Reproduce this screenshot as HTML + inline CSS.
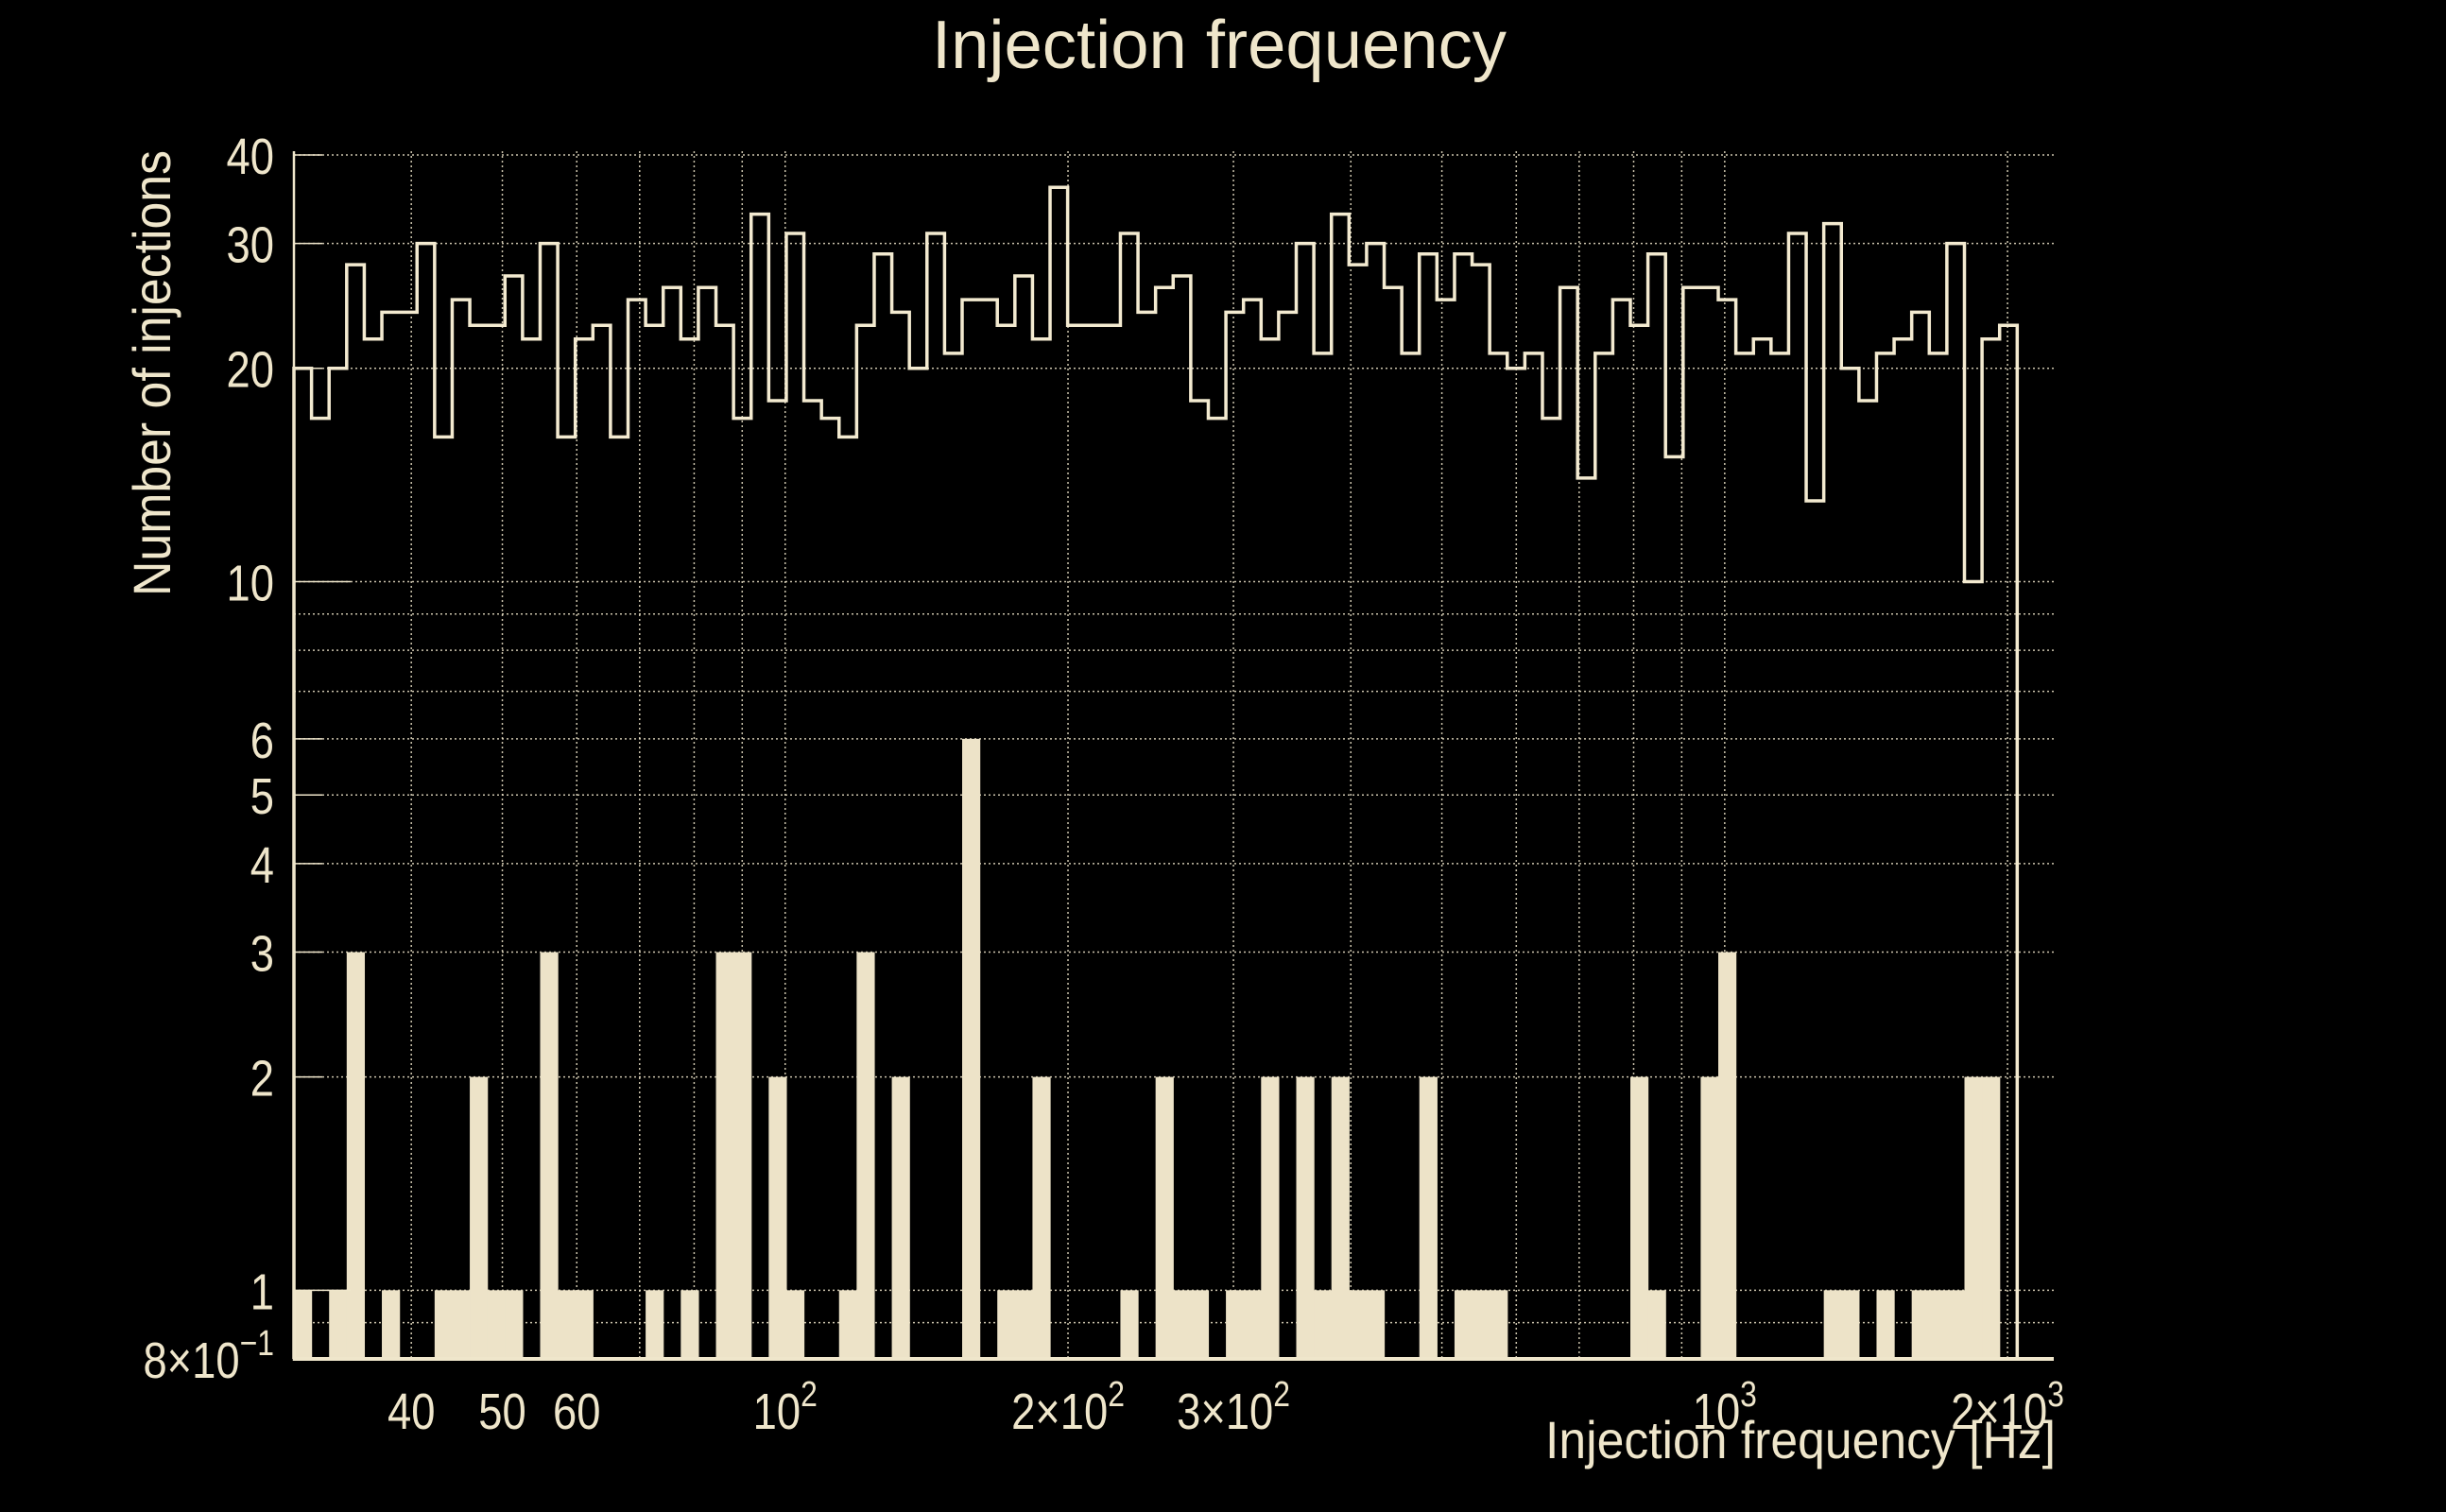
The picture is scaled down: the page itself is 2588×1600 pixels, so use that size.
<!DOCTYPE html>
<html>
<head>
<meta charset="utf-8">
<style>
html,body{margin:0;padding:0;background:#000;}
svg{display:block;}
text{font-family:"Liberation Sans",sans-serif;fill:#efe6cb;}
</style>
</head>
<body>
<svg id="chart" width="2588" height="1600" viewBox="0 0 2588 1600" xmlns="http://www.w3.org/2000/svg">
  <rect x="0" y="0" width="2588" height="1600" fill="#000"/>
  <g id="grid"></g>
  <g id="bars"></g>
  <g id="line"></g>
  <g id="axes"></g>
  <g id="labels"></g>
  <text x="1290" y="72" font-size="72" text-anchor="middle" textLength="608" lengthAdjust="spacingAndGlyphs">Injection frequency</text>
  <text transform="translate(180,395) rotate(-90)" font-size="56" text-anchor="middle" textLength="472" lengthAdjust="spacingAndGlyphs">Number of injections</text>
  <text x="2175" y="1543" font-size="56" text-anchor="end" textLength="540" lengthAdjust="spacingAndGlyphs">Injection frequency [Hz]</text>
</svg>
<script>
// ---- data ----
const lineCounts = [20,17,20,28,22,24,24,30,16,25,23,23,27,22,30,16,22,23,16,25,23,26,22,26,23,
  17,33,18,31,18,17,16,23,29,24,20,31,21,25,25,23,27,22,36,23,23,23,31,24,26,
  27,18,17,24,25,22,24,30,21,33,28,30,26,21,29,25,29,28,21,20,21,17,26,14,
  21,25,23,29,15,26,26,25,21,22,21,31,13,32,20,18,21,22,24,21,30,10,22,23];
const barCounts = [1,0,1,3,0,1,0,0,1,1,2,1,1,0,3,1,1,0,0,0,1,0,1,0,3,
  3,0,2,1,0,0,1,3,0,2,0,0,0,6,0,1,1,2,0,0,0,0,1,0,2,
  1,1,0,1,1,2,0,2,1,2,1,1,0,0,2,0,1,1,1,0,0,0,0,0,
  0,0,2,1,0,0,2,3,0,0,0,0,0,1,1,0,1,0,1,1,1,2,2,0];
const binRange = [30, 2048];
const yTickValues = [0.8,1,2,3,4,5,6,10,20,30,40];
const yTickLabels = [["8\u00d710","\u22121"],["1",""],["2",""],["3",""],["4",""],["5",""],["6",""],["10",""],["20",""],["30",""],["40",""]];
const yGridValues = [0.9,1,2,3,4,5,6,7,8,9,10,20,30,40];
const xTickValues = [40,50,60,100,200,300,1000,2000];
const xTickLabels = [["40",""],["50",""],["60",""],["10","2"],["2\u00d710","2"],["3\u00d710","2"],["10","3"],["2\u00d710","3"]];
const xGridValues = [40,50,60,70,80,90,100,200,300,400,500,600,700,800,900,1000,2000];

// ---- axes ----
const X0 = 311, X1 = 2173, XMIN = 30, XMAX = 2240;
const Y0 = 1438, Y1 = 164, YMIN = 0.8, YMAX = 40;
const lx0 = Math.log10(XMIN), lx1 = Math.log10(XMAX);
const ly0 = Math.log10(YMIN), ly1 = Math.log10(YMAX);
function xs(v){ return X0 + (Math.log10(v) - lx0) / (lx1 - lx0) * (X1 - X0); }
function ys(v){ return Y0 - (Math.log10(v) - ly0) / (ly1 - ly0) * (Y0 - Y1); }
const NS = "http://www.w3.org/2000/svg";
const C = "#efe6cb";
function mk(tag, attrs, parent){
  const e = document.createElementNS(NS, tag);
  for (const k in attrs) e.setAttribute(k, attrs[k]);
  parent.appendChild(e);
  return e;
}
const nb = lineCounts.length;
const lb0 = Math.log10(binRange[0]), lb1 = Math.log10(binRange[1]);
function edge(i){ return Math.pow(10, lb0 + (lb1 - lb0) * i / nb); }

// grid
const grid = document.getElementById('grid');
yGridValues.forEach(v => {
  const l = mk('line', {x1:X0, x2:X1, y1:ys(v), y2:ys(v), stroke:C, 'stroke-width':1.5, 'stroke-dasharray':'2 3', opacity:0.85}, grid);
  
  
});
xGridValues.forEach(v => {
  const l = mk('line', {x1:xs(v), x2:xs(v), y1:Y1-4, y2:Y0, stroke:C, 'stroke-width':1.5, 'stroke-dasharray':'2 3', opacity:0.85}, grid);
  
  
});

// bars
const bars = document.getElementById('bars');
barCounts.forEach((c, i) => {
  if (c <= 0) return;
  const xa = xs(edge(i)), xb = xs(edge(i + 1));
  const r = mk('rect', {x:xa, y:ys(c), width:xb - xa + 0.6, height:Y0 - ys(c), fill:'#ede3c8'}, bars);
  
  
});

// step line
const lineG = document.getElementById('line');
let d = 'M' + xs(edge(0)) + ' ' + Y0;
lineCounts.forEach((c, i) => {
  d += ' L' + xs(edge(i)) + ' ' + ys(c) + ' L' + xs(edge(i + 1)) + ' ' + ys(c);
});
d += ' L' + xs(edge(nb)) + ' ' + Y0;
const p = mk('path', {d:d, fill:'none', stroke:'#f3ead0', 'stroke-width':3.5, 'stroke-linejoin':'miter'}, lineG);



// axes
const axes = document.getElementById('axes');
const ya = mk('line', {x1:X0, x2:X0, y1:160, y2:Y0 + 2, stroke:C, 'stroke-width':2.5}, axes);


const xa = mk('line', {x1:X0, x2:X1, y1:Y0, y2:Y0, stroke:C, 'stroke-width':4}, axes);


yTickValues.forEach(v => {
  const len = (v === 1 || v === 10) ? 60 : 30;
  const t = mk('line', {x1:X0, x2:X0 + len, y1:ys(v), y2:ys(v), stroke:C, 'stroke-width':1.5}, axes);
  
  
});

// labels
const SX = 0.84;
const labels = document.getElementById('labels');
function addLabel(x, y, anchor, parts, name){
  const t = mk('text', {transform:'translate(' + x + ',' + y + ') scale(' + SX + ',1)', 'font-size':54, 'text-anchor':anchor}, labels);
  
  
  const base = document.createElementNS(NS, 'tspan');
  base.textContent = parts[0];
  t.appendChild(base);
  if (parts[1]) {
    const sup = document.createElementNS(NS, 'tspan');
    sup.setAttribute('dy', '-24');
    sup.setAttribute('font-size', '38');
    sup.textContent = parts[1];
    t.appendChild(sup);
  }
}
yTickValues.forEach((v, i) => {
  addLabel(290, ys(v) + 20, 'end', yTickLabels[i], 'y-tick-label');
});
xTickValues.forEach((v, i) => {
  addLabel(xs(v), 1512, 'middle', xTickLabels[i], 'x-tick-label');
});
</script>
</body>
</html>
